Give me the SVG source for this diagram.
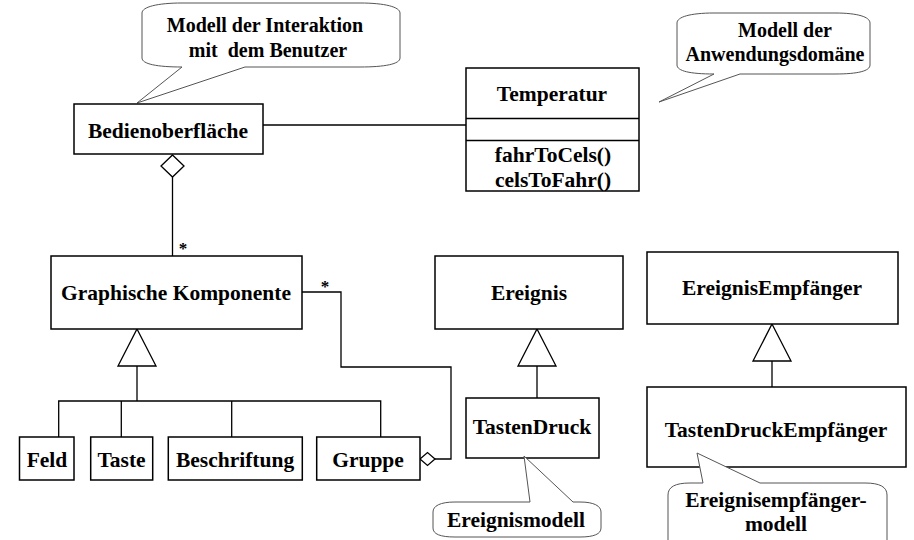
<svg xmlns="http://www.w3.org/2000/svg" width="914" height="540" viewBox="0 0 914 540">
<style>
.box{fill:#fff;stroke:#000;stroke-width:1.5}
.ln{fill:none;stroke:#000;stroke-width:1.3}
.bub{fill:#fff;stroke:#555;stroke-width:1}
.t{font-family:"Liberation Serif","Times New Roman",serif;font-weight:bold;font-size:21.5px;text-anchor:middle;fill:#000}
.bt{font-family:"Liberation Serif","Times New Roman",serif;font-weight:bold;font-size:20px;text-anchor:middle;fill:#000}
.m{font-family:"Liberation Serif","Times New Roman",serif;font-weight:bold;font-size:17px;text-anchor:middle;fill:#000}
</style>
<rect width="914" height="540" fill="#fff"/>

<g id="connectors">
  <line class="ln" x1="263" y1="125" x2="466" y2="125"/>
  <polyline class="ln" points="172.5,177 172.5,256"/>
  <polygon class="box" points="172.5,155 184,166 172.5,177 161,166" style="stroke-width:1.3"/>
  <text class="m" x="183" y="254">*</text>
  <polyline class="ln" points="302,292 341,292 341,367 451,367 451,459 435,459"/>
  <polygon class="box" points="420,459 427.5,452.5 435,459 427.5,465.5" style="stroke-width:1.3"/>
  <text class="m" x="325" y="292">*</text>
  <polygon class="box" points="137,329 156,366 118,366" style="stroke-width:1.3"/>
  <polyline class="ln" points="137,366 137,401"/>
  <polyline class="ln" points="58.7,437 58.7,401 380.7,401 380.7,437"/>
  <line class="ln" x1="121.3" y1="401" x2="121.3" y2="437"/>
  <line class="ln" x1="231.7" y1="401" x2="231.7" y2="437"/>
  <polygon class="box" points="537,329 556,366 518,366" style="stroke-width:1.3"/>
  <line class="ln" x1="537" y1="366" x2="537" y2="398"/>
  <polygon class="box" points="772,324 791,361 753,361" style="stroke-width:1.3"/>
  <line class="ln" x1="772" y1="361" x2="772" y2="387"/>
</g>

<g id="note-interaktion">
  <path class="bub" d="M182,67 L137,103 L245,67 L360,67 C385,67 400,64 400,58 L400,13 C400,7 385,3 360,3 L182,3 C157,3 142,7 142,13 L142,58 C142,64 157,67 182,67 Z"/>
  <text class="bt" x="265" y="32">Modell der Interaktion</text>
  <text class="bt" x="268" y="57" xml:space="preserve">mit  dem Benutzer</text>
</g>

<g id="note-domaene">
  <path class="bub" d="M714,74 L659,102 L740,74 L835,74 C858,74 870,71 870,65 L870,23 C870,17 858,13 835,13 L714,13 C690,13 677,17 677,23 L677,65 C677,71 690,74 714,74 Z"/>
  <text class="bt" x="785" y="37">Modell der</text>
  <text class="bt" x="775" y="61">Anwendungsdomäne</text>
</g>

<g id="Bedienoberflaeche">
  <rect class="box" x="74" y="104" width="189" height="50"/>
  <text class="t" x="168" y="138">Bedienoberfläche</text>
</g>

<g id="Temperatur">
  <rect class="box" x="466" y="68" width="173" height="123"/>
  <line class="ln" x1="466" y1="118.5" x2="639" y2="118.5"/>
  <line class="ln" x1="466" y1="140.5" x2="639" y2="140.5"/>
  <text class="t" x="552" y="101">Temperatur</text>
  <text class="t" x="553" y="162">fahrToCels()</text>
  <text class="t" x="553" y="187">celsToFahr()</text>
</g>

<g id="GraphischeKomponente">
  <rect class="box" x="51" y="256" width="251" height="73"/>
  <text class="t" x="176" y="300">Graphische Komponente</text>
</g>

<g id="Ereignis">
  <rect class="box" x="435" y="256" width="188" height="73"/>
  <text class="t" x="529" y="300">Ereignis</text>
</g>

<g id="EreignisEmpfaenger">
  <rect class="box" x="647" y="252" width="251" height="72"/>
  <text class="t" x="772" y="295">EreignisEmpfänger</text>
</g>

<g id="Feld">
  <rect class="box" x="19.5" y="437" width="54.5" height="43"/>
  <text class="t" x="47" y="467">Feld</text>
</g>
<g id="Taste">
  <rect class="box" x="90.7" y="437" width="62" height="43"/>
  <text class="t" x="121.5" y="467">Taste</text>
</g>
<g id="Beschriftung">
  <rect class="box" x="168.3" y="437" width="134" height="43"/>
  <text class="t" x="235" y="467">Beschriftung</text>
</g>
<g id="Gruppe">
  <rect class="box" x="316.7" y="437" width="103.3" height="43"/>
  <text class="t" x="368" y="467">Gruppe</text>
</g>

<g id="TastenDruck">
  <rect class="box" x="466" y="398" width="133" height="60"/>
  <text class="t" x="532" y="434">TastenDruck</text>
</g>

<g id="TastenDruckEmpfaenger">
  <rect class="box" x="647" y="387" width="259" height="80"/>
  <text class="t" x="776" y="437">TastenDruckEmpfänger</text>
</g>

<g id="note-ereignismodell">
  <path class="bub" d="M530,502 L524,456 L573,502 L580,502 C594,502 601,506 601,512 L601,528 C601,534 594,537 580,537 L455,537 C440,537 433,534 433,528 L433,512 C433,506 440,502 455,502 Z"/>
  <text class="t" x="516" y="527">Ereignismodell</text>
</g>

<g id="note-empfaengermodell">
  <path class="bub" d="M703,483 L697,453 L760,483 L865,483 C880,483 887,487 887,495 L887,545 L668,545 L668,495 C668,487 675,483 690,483 Z"/>
  <text class="t" x="776" y="507">Ereignisempfänger-</text>
  <text class="t" x="776" y="531">modell</text>
</g>
</svg>
